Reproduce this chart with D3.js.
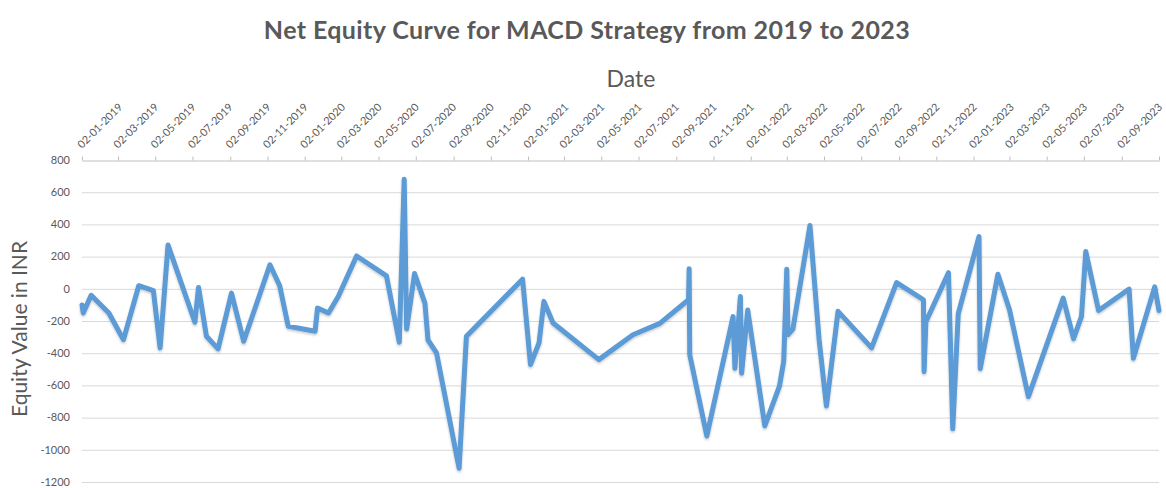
<!DOCTYPE html>
<html>
<head>
<meta charset="utf-8">
<script src="https://cdn.jsdelivr.net/npm/d3@7/dist/d3.min.js"></script>
<style>
  html, body { margin: 0; padding: 0; background: #fff; }
  svg { display: block; font-family: Lato, "Open Sans", sans-serif; }
</style>
</head>
<body>
<svg id="chart" width="1166" height="488"></svg>
<script>
// ---- data ----
const tickLabels = ["02-01-2019","02-03-2019","02-05-2019","02-07-2019","02-09-2019","02-11-2019",
  "02-01-2020","02-03-2020","02-05-2020","02-07-2020","02-09-2020","02-11-2020",
  "02-01-2021","02-03-2021","02-05-2021","02-07-2021","02-09-2021","02-11-2021",
  "02-01-2022","02-03-2022","02-05-2022","02-07-2022","02-09-2022","02-11-2022",
  "02-01-2023","02-03-2023","02-05-2023","02-07-2023","02-09-2023"];
const axisEnd = "02-11-2023";
const yTicks = [800, 600, 400, 200, 0, -200, -400, -600, -800, -1000, -1200];

const dates = ["2019-01-02","2019-01-04","2019-01-17","2019-02-15","2019-03-11","2019-04-05","2019-04-29","2019-05-10","2019-05-23",
  "2019-07-06","2019-07-12","2019-07-25","2019-08-13","2019-09-04","2019-09-24","2019-11-06","2019-11-22","2019-12-06",
  "2020-01-19","2020-01-23","2020-02-10","2020-02-26","2020-03-27","2020-05-15","2020-06-05","2020-06-13","2020-06-17",
  "2020-06-30","2020-07-17","2020-07-22","2020-08-05","2020-09-11","2020-09-23","2020-12-24",
  "2021-01-06","2021-01-20","2021-01-28","2021-02-12","2021-04-28","2021-06-23","2021-08-06","2021-09-22","2021-09-23",
  "2021-09-24","2021-10-22","2021-12-04","2021-12-07","2021-12-16","2021-12-18","2021-12-28",
  "2022-01-25","2022-02-18","2022-02-25","2022-03-02","2022-03-04","2022-03-12","2022-04-09","2022-04-24","2022-05-06",
  "2022-05-25","2022-07-19","2022-08-29","2022-10-12","2022-10-13","2022-10-16","2022-11-22","2022-11-29","2022-12-08",
  "2023-01-11","2023-01-13","2023-02-11","2023-03-02","2023-04-02","2023-05-29","2023-06-15","2023-06-28","2023-07-05",
  "2023-07-26","2023-09-14","2023-09-21","2023-10-26","2023-11-02"];
const equity = [-100,-150,-40,-150,-316,19,-12,-367,272,
  -208,8,-295,-373,-27,-326,149,19,-233,
  -264,-120,-150,-48,204,80,-332,680,-250,
  95,-89,-318,-398,-1115,-295,60,
  -470,-336,-78,-212,-440,-285,-215,-68,125,
  -410,-914,-173,-494,-48,-524,-132,
  -852,-605,-450,122,-285,-250,393,-316,-728,
  -140,-367,39,-68,-515,-205,100,-870,-155,
  324,-497,90,-130,-670,-58,-310,-171,231,
  -135,-2,-432,12,-135];

const title = "Net Equity Curve for MACD Strategy from 2019 to 2023";
const xTitle = "Date";
const yTitle = "Equity Value in INR";

// ---- layout ----
const svg = d3.select("#chart");
const plotLeft = 82, plotRight = 1159, plotTop = 160, plotBottom = 482;
const textColor = "#595959";

const parseTick = d3.utcParse("%d-%m-%Y");
const parseDate = d3.utcParse("%Y-%m-%d");

const x = d3.scaleUtc()
  .domain([parseTick(tickLabels[0]), parseTick(axisEnd)])
  .range([plotLeft, plotRight]);
const y = d3.scaleLinear().domain([-1200, 800]).range([plotBottom, plotTop]);

// gridlines
svg.append("g")
  .selectAll("line")
  .data(yTicks.filter(v => v !== 800))
  .join("line")
  .attr("x1", plotLeft).attr("x2", plotRight)
  .attr("y1", d => y(d) + 0.5).attr("y2", d => y(d) + 0.5)
  .attr("stroke", "#d9d9d9").attr("stroke-width", 1);

// y tick labels
svg.append("g")
  .selectAll("text")
  .data(yTicks)
  .join("text")
  .attr("x", 70)
  .attr("y", d => y(d))
  .attr("dy", "0.35em")
  .attr("text-anchor", "end")
  .attr("font-size", 11)
  .attr("fill", textColor)
  .text(d => d);

// top date axis
const tickDates = tickLabels.map(parseTick).concat([parseTick(axisEnd)]);
const xAxis = d3.axisTop(x)
  .tickValues(tickDates)
  .tickSize(4)
  .tickSizeOuter(0)
  .tickFormat(() => "");
const gx = svg.append("g")
  .attr("transform", `translate(0,${plotTop + 0.5})`)
  .call(xAxis);
gx.select(".domain").attr("stroke", "#bfbfbf");
gx.selectAll(".tick line").attr("stroke", "#bfbfbf");

// rotated date labels
svg.append("g")
  .selectAll("text")
  .data(tickLabels)
  .join("text")
  .attr("transform", d => `translate(${x(parseTick(d))},${plotTop - 11}) rotate(-45)`)
  .attr("text-anchor", "start")
  .attr("font-size", 10.8)
  .attr("fill", textColor)
  .text(d => d);

// line
const defs = svg.append("defs");
const f = defs.append("filter").attr("id", "shadow").attr("x", "-5%").attr("y", "-5%").attr("width", "110%").attr("height", "110%");
f.append("feDropShadow").attr("dx", 0).attr("dy", 1.5).attr("stdDeviation", 1.2)
  .attr("flood-color", "#000").attr("flood-opacity", 0.22);

const points = dates.map((d, i) => [parseDate(d), equity[i]]);
const line = d3.line().x(d => x(d[0])).y(d => y(d[1]));
svg.append("path")
  .datum(points)
  .attr("d", line)
  .attr("fill", "none")
  .attr("stroke", "#5b9bd5")
  .attr("stroke-width", 5)
  .attr("stroke-linejoin", "round")
  .attr("stroke-linecap", "round")
  .attr("filter", "url(#shadow)");

// titles
svg.append("text")
  .attr("x", 587).attr("y", 39)
  .attr("text-anchor", "middle")
  .attr("font-size", 25).attr("font-weight", "bold")
  .attr("letter-spacing", 0.4)
  .attr("fill", textColor)
  .text(title);

svg.append("text")
  .attr("x", 631).attr("y", 87)
  .attr("text-anchor", "middle")
  .attr("font-size", 23)
  .attr("fill", textColor)
  .text(xTitle);

svg.append("text")
  .attr("transform", `translate(27,329) rotate(-90)`)
  .attr("text-anchor", "middle")
  .attr("font-size", 21)
  .attr("fill", textColor)
  .text(yTitle);
</script>
</body>
</html>
